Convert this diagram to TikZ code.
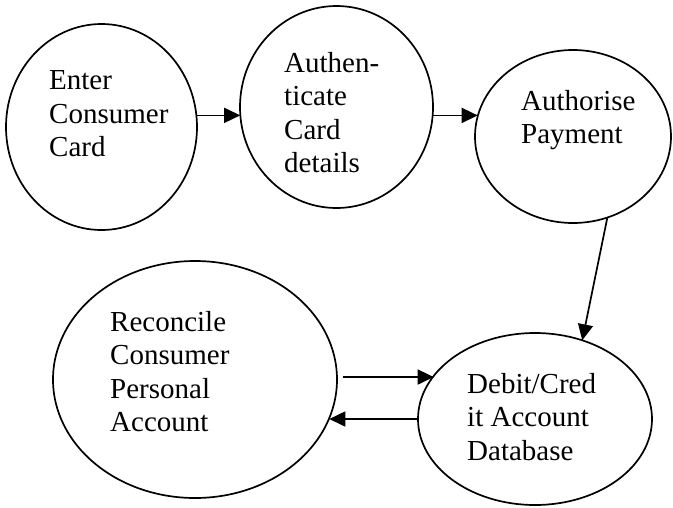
\documentclass[tikz,border=0pt]{standalone}
\usepackage{fontspec}
\setmainfont{Liberation Serif}
\usetikzlibrary{shapes.geometric,arrows.meta}

\tikzset{
  proc/.style={draw, ellipse, line width=1.7pt, inner sep=0pt, outer sep=0pt},
  label/.style={anchor=north west, inner sep=0pt, align=left,
                font=\fontsize{29}{33.5}\selectfont},
  arr/.style={line width=1.7pt, -{Triangle[length=16pt,width=15pt]}}
}

\begin{document}
\begin{tikzpicture}[x=1pt,y=-1pt]
  \useasboundingbox (0,0) rectangle (673,507);

  % processes
  \node[proc, minimum width=191pt, minimum height=206pt] (e1) at (101.5,127) {};
  \node[proc, minimum width=193pt, minimum height=202pt] (e2) at (336.5,107) {};
  \node[proc, minimum width=196pt, minimum height=173pt] (e3) at (573,136.5) {};
  \node[proc, minimum width=284pt, minimum height=237pt] (e4) at (195,379.5) {};
  \node[proc, minimum width=234pt, minimum height=172pt] (e5) at (535,419) {};

  % labels
  \node[label] (t1) at (49,70.5) {Enter\\Consumer\\Card};
  \node[label] (t2) at (284,51.8) {Authen-\\ticate\\Card\\details};
  \node[label] (t3) at (521,90) {Authorise\\Payment};
  \node[label] (t4) at (110,311) {Reconcile\\Consumer\\Personal\\Account};
  \node[label] (t5) at (467,373) {Debit/Cred\\it Account\\Database};

  % flows
  \draw[arr] (e1.7.81) -- (e1.7.81 -| e2.184.16);
  \draw[arr] (e2.-5.94) -- (e2.-5.94 -| e3.168.46);
  \draw[arr] (e3.-67.94) -- (e5.59.81);
  \draw[arr, shorten <=6pt] (e4.1.41 -| e4.east) -- (e4.1.41 -| e5.157);
  \draw[arr] (e5.west) -- (e5.west -| e4.-16.44);
\end{tikzpicture}
\end{document}
